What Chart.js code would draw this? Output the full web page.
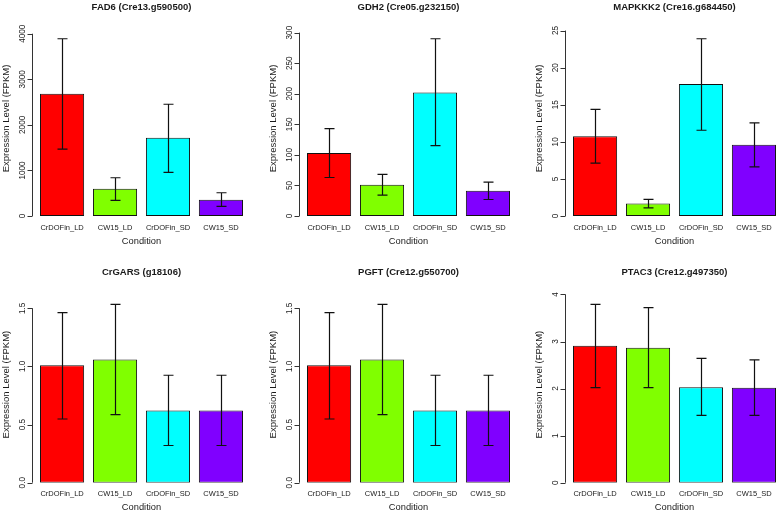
<!DOCTYPE html>
<html>
<head>
<meta charset="utf-8">
<script src="https://cdn.jsdelivr.net/npm/chart.js@4.4.1/dist/chart.umd.min.js"></script>
<style>
  html, body { margin: 0; padding: 0; background: #fff; overflow: hidden; }
  #wrap { position: relative; width: 778px; height: 513px; overflow: hidden; background: #fff; }
  #wrap canvas { position: absolute; }
</style>
</head>
<body>
<div id="wrap"></div>
<script>
// --- data ---
const conditions = ['CrDOFin_LD', 'CW15_LD', 'CrDOFin_SD', 'CW15_SD'];
const barColors = ['#FF0000', '#80FF00', '#00FFFF', '#8000FF'];

const fad6Mean = [2680, 600, 1715, 357];
const fad6Low = [1467, 343, 957, 212];
const fad6High = [3890, 839, 2452, 510];
const fad6Ticks = [0, 1000, 2000, 3000, 4000];
const fad6TickLabels = ['0', '1000', '2000', '3000', '4000'];

const gdh2Mean = [103, 51, 202, 41.5];
const gdh2Low = [63, 34, 115, 27];
const gdh2High = [143, 68, 290, 55.5];
const gdh2Ticks = [0, 50, 100, 150, 200, 250, 300];
const gdh2TickLabels = ['0', '50', '100', '150', '200', '250', '300'];

const mapkkk2Mean = [10.75, 1.7, 17.8, 9.6];
const mapkkk2Low = [7.12, 1.1, 11.56, 6.63];
const mapkkk2High = [14.38, 2.25, 23.9, 12.55];
const mapkkk2Ticks = [0, 5, 10, 15, 20, 25];
const mapkkk2TickLabels = ['0', '5', '10', '15', '20', '25'];

const garsMean = [1.01, 1.06, 0.62, 0.62];
const garsLow = [0.548, 0.585, 0.32, 0.32];
const garsHigh = [1.463, 1.534, 0.924, 0.924];
const garsTicks = [0, 0.5, 1, 1.5];
const garsTickLabels = ['0.0', '0.5', '1.0', '1.5'];

const pgftMean = [1.01, 1.06, 0.62, 0.62];
const pgftLow = [0.548, 0.585, 0.32, 0.32];
const pgftHigh = [1.463, 1.534, 0.924, 0.924];
const pgftTicks = [0, 0.5, 1, 1.5];
const pgftTickLabels = ['0.0', '0.5', '1.0', '1.5'];

const ptac3Mean = [2.91, 2.87, 2.03, 2.02];
const ptac3Low = [2.02, 2.02, 1.43, 1.43];
const ptac3High = [3.79, 3.72, 2.64, 2.61];
const ptac3Ticks = [0, 1, 2, 3, 4];
const ptac3TickLabels = ['0', '1', '2', '3', '4'];

const panels = [
  { title: 'FAD6 (Cre13.g590500)', mean: fad6Mean, low: fad6Low, high: fad6High, ticks: fad6Ticks, labels: fad6TickLabels },
  { title: 'GDH2 (Cre05.g232150)', mean: gdh2Mean, low: gdh2Low, high: gdh2High, ticks: gdh2Ticks, labels: gdh2TickLabels },
  { title: 'MAPKKK2 (Cre16.g684450)', mean: mapkkk2Mean, low: mapkkk2Low, high: mapkkk2High, ticks: mapkkk2Ticks, labels: mapkkk2TickLabels },
  { title: 'CrGARS (g18106)', mean: garsMean, low: garsLow, high: garsHigh, ticks: garsTicks, labels: garsTickLabels },
  { title: 'PGFT (Cre12.g550700)', mean: pgftMean, low: pgftLow, high: pgftHigh, ticks: pgftTicks, labels: pgftTickLabels },
  { title: 'PTAC3 (Cre12.g497350)', mean: ptac3Mean, low: ptac3Low, high: ptac3High, ticks: ptac3Ticks, labels: ptac3TickLabels },
];

// --- layout ---
const FONT = '"Liberation Sans", Arial, Helvetica, sans-serif';
const INK = '#1a1a1a';
const colLeft = [0, 267, 533];
const rows = [
  { top: 0, height: 256, titleTop: 2.25, titleBottom: 9.25, xHeight: 40, tickPad: 8.25, xTitlePad: 9.65 },
  { top: 256, height: 257, titleTop: 11.75, titleBottom: 9.25, xHeight: 30.3, tickPad: 7.85, xTitlePad: 0.65 },
];
const W = 259;

Chart.defaults.font.family = FONT;
Chart.defaults.color = INK;

// R-style y axis: line from first to last tick, rotated labels
const rAxis = {
  id: 'rAxis',
  afterDraw(chart, args, opts) {
    const { ctx, chartArea } = chart;
    const y = chart.scales.y;
    const x0 = Math.round(chartArea.left - 3.6) + 0.5;
    ctx.save();
    ctx.strokeStyle = '#333';
    ctx.lineWidth = 1;
    ctx.beginPath();
    ctx.moveTo(x0, y.getPixelForValue(opts.ticks[0]));
    ctx.lineTo(x0, y.getPixelForValue(opts.ticks[opts.ticks.length - 1]));
    opts.ticks.forEach(v => {
      const py = Math.round(y.getPixelForValue(v)) + 0.5;
      ctx.moveTo(x0 - 5, py);
      ctx.lineTo(x0, py);
    });
    ctx.stroke();
    ctx.fillStyle = INK;
    ctx.font = '8.2px ' + FONT;
    ctx.textAlign = 'center';
    ctx.textBaseline = 'middle';
    opts.ticks.forEach((v, i) => {
      ctx.save();
      ctx.translate(x0 - 10, y.getPixelForValue(v));
      ctx.rotate(-Math.PI / 2);
      ctx.fillText(opts.labels[i], 0, 0);
      ctx.restore();
    });
    ctx.restore();
  }
};

const errBars = {
  id: 'errBars',
  afterDatasetsDraw(chart, args, opts) {
    const { ctx } = chart;
    const y = chart.scales.y;
    const meta = chart.getDatasetMeta(0);
    ctx.save();
    ctx.strokeStyle = '#111';
    ctx.lineWidth = 1.2;
    meta.data.forEach((bar, i) => {
      const x = Math.round(bar.x) + 0.5;
      const yl = y.getPixelForValue(opts.low[i]);
      const yh = y.getPixelForValue(opts.high[i]);
      ctx.beginPath();
      ctx.moveTo(x, yl); ctx.lineTo(x, yh);
      ctx.moveTo(x - 5, yl); ctx.lineTo(x + 5, yl);
      ctx.moveTo(x - 5, yh); ctx.lineTo(x + 5, yh);
      ctx.stroke();
    });
    ctx.restore();
  }
};

const wrap = document.getElementById('wrap');
panels.forEach((p, k) => {
  const row = rows[Math.floor(k / 3)];
  const canvas = document.createElement('canvas');
  canvas.width = W;
  canvas.height = row.height;
  canvas.style.left = colLeft[k % 3] + 'px';
  canvas.style.top = row.top + 'px';
  wrap.appendChild(canvas);

  const yMax = 1.1 * Math.max(...p.high);

  new Chart(canvas, {
    type: 'bar',
    data: {
      labels: conditions,
      datasets: [{
        data: p.mean,
        backgroundColor: barColors,
        borderColor: '#111',
        borderWidth: 1,
        borderSkipped: false,
        barPercentage: 1 / 1.2,
        categoryPercentage: 1
      }]
    },
    options: {
      responsive: false,
      animation: false,
      layout: { padding: { left: 0, right: W - 247.4, top: 0, bottom: 0 } },
      plugins: {
        legend: { display: false },
        tooltip: { enabled: false },
        title: {
          display: true,
          text: p.title,
          fullSize: false,
          color: INK,
          font: { size: 9.5, weight: 'bold', lineHeight: 1 },
          padding: { top: row.titleTop, bottom: row.titleBottom }
        },
        rAxis: { ticks: p.ticks, labels: p.labels },
        errBars: { low: p.low, high: p.high }
      },
      scales: {
        x: {
          offset: true,
          grid: { display: false, drawTicks: false },
          border: { display: false },
          ticks: { font: { size: 7.5, lineHeight: 1 }, padding: row.tickPad, maxRotation: 0, autoSkip: false, color: INK },
          title: { display: true, text: 'Condition', font: { size: 9.3, lineHeight: 1 }, padding: { top: 0, bottom: row.xTitlePad }, color: INK },
          afterFit: s => { s.height = row.xHeight; }
        },
        y: {
          min: 0,
          max: yMax,
          grid: { display: false, drawTicks: false },
          border: { display: false },
          ticks: { display: false },
          title: { display: true, text: 'Expression Level (FPKM)', font: { size: 9.5, lineHeight: 1 }, padding: { top: 1.25, bottom: 0 }, color: INK },
          afterFit: s => { s.width = 35.6; }
        }
      }
    },
    plugins: [rAxis, errBars]
  });
});
</script>
</body>
</html>
